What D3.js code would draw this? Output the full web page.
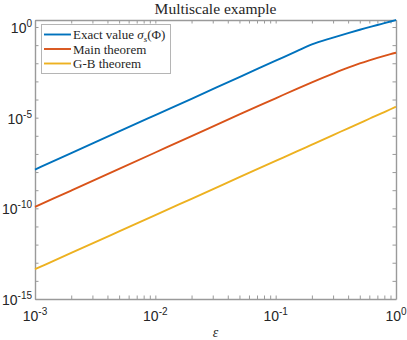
<!DOCTYPE html>
<html lang="en">
<head>
  <meta charset="UTF-8">
  <title>Multiscale example</title>
<script src="https://d3js.org/d3.v7.min.js"></script>
<style>
  body { margin: 0; background: #fff; }
  svg text { fill: #262626; }
</style>
</head>
<body>
<div id="chart"></div>

  <script>

// values
const epsilon = [0.001, 0.002, 0.005, 0.01, 0.02, 0.05, 0.1, 0.15, 0.2, 0.3, 0.4, 0.5, 0.6, 0.7, 0.8, 0.9, 1];
const exactValue = [1.38e-8, 1.10e-7, 1.73e-6, 1.38e-5, 1.10e-4, 1.73e-3, 1.38e-2, 4.66e-2, 0.110, 0.259, 0.460, 0.703, 0.975, 1.29, 1.62, 2.0, 2.43];
const mainTheorem = [1.2e-10, 9.6e-10, 1.5e-8, 1.2e-7, 9.6e-7, 1.5e-5, 1.17e-4, 3.9e-4, 8.9e-4, 2.69e-3, 5.69e-3, 9.73e-3, 1.45e-2, 1.99e-2, 2.58e-2, 3.2e-2, 3.8e-2];
const gbTheorem = [4.4e-14, 3.48e-13, 5.37e-12, 4.26e-11, 3.37e-10, 5.2e-9, 4.12e-8, 1.38e-7, 3.27e-7, 1.10e-6, 2.59e-6, 5.05e-6, 8.7e-6, 1.38e-5, 2.05e-5, 2.91e-5, 4.0e-5];

const seriesNames = ['Exact value', 'Main theorem', 'G-B theorem'];
const seriesColors = ['#0072BD', '#D95319', '#EDB120'];

const xTicks = [1e-3, 1e-2, 1e-1, 1];
const xTickExp = ['-3', '-2', '-1', '0'];
const yTicks = [1e-15, 1e-10, 1e-5, 1];
const yTickExp = ['-15', '-10', '-5', '0'];

const width = 407;
const height = 340;
const margin = { top: 20, right: 11, bottom: 41, left: 35 };

const x = d3.scaleLog()
  .domain([1e-3, 1])
  .range([margin.left, width - margin.right]);

const y = d3.scaleLog()
  .domain([1e-15, d3.max(exactValue)])
  .range([height - margin.bottom, margin.top]);

const svg = d3.select('#chart')
  .append('svg')
  .attr('width', width)
  .attr('height', height);

const axisColor = '#9a9a9a';
const tickLen = 3.5;

// minor ticks: 2..9 per decade on x, every decade on y
const xMinor = x.ticks();
const yMinor = d3.range(-15, 1).map(e => Math.pow(10, e));

function styleAxis(g) {
  g.selectAll('path').attr('stroke', axisColor).attr('stroke-width', 1.4);
  g.selectAll('line').attr('stroke', axisColor).attr('stroke-width', 1);
  g.selectAll('text').remove();
}

svg.append('g')
  .attr('transform', `translate(0,${height - margin.bottom})`)
  .call(d3.axisBottom(x).tickValues(xMinor).tickSize(-tickLen).tickSizeOuter(0))
  .call(styleAxis);

svg.append('g')
  .attr('transform', `translate(0,${margin.top})`)
  .call(d3.axisTop(x).tickValues(xMinor).tickSize(-tickLen).tickSizeOuter(0))
  .call(styleAxis);

svg.append('g')
  .attr('transform', `translate(${margin.left},0)`)
  .call(d3.axisLeft(y).tickValues(yMinor).tickSize(-tickLen).tickSizeOuter(0))
  .call(styleAxis);

svg.append('g')
  .attr('transform', `translate(${width - margin.right},0)`)
  .call(d3.axisRight(y).tickValues(yMinor).tickSize(-tickLen).tickSizeOuter(0))
  .call(styleAxis);

// tick labels with superscripts
const tickFont = "'Liberation Sans', Arial, sans-serif";

const xl = svg.append('g').selectAll('text')
  .data(xTicks)
  .enter()
  .append('text')
  .attr('x', d => x(d))
  .attr('y', height - margin.bottom + 22)
  .attr('text-anchor', 'middle')
  .style('font-family', tickFont)
  .style('font-size', '14px');
xl.append('tspan').text('10');
xl.append('tspan').attr('dy', -6).style('font-size', '10px').text((d, i) => xTickExp[i]);

const yl = svg.append('g').selectAll('text')
  .data(yTicks)
  .enter()
  .append('text')
  .attr('x', margin.left - 3)
  .attr('y', d => y(d) + 6)
  .attr('text-anchor', 'end')
  .style('font-family', tickFont)
  .style('font-size', '14px');
yl.append('tspan').text('10');
yl.append('tspan').attr('dy', -6).style('font-size', '10px').text((d, i) => yTickExp[i]);

// lines
const series = [exactValue, mainTheorem, gbTheorem];

const line = d3.line()
  .x(d => x(d[0]))
  .y(d => y(d[1]))
  .curve(d3.curveMonotoneX);

svg.append('g')
  .selectAll('path')
  .data(series)
  .enter()
  .append('path')
  .attr('d', s => line(epsilon.map((e, i) => [e, s[i]])))
  .attr('fill', 'none')
  .attr('stroke', (s, i) => seriesColors[i])
  .attr('stroke-width', 1.9);

// title and axis label
const serif = "'Liberation Serif', 'DejaVu Serif', serif";

svg.append('text')
  .attr('x', (margin.left + width - margin.right) / 2)
  .attr('y', 14)
  .attr('text-anchor', 'middle')
  .style('font-family', serif)
  .style('font-size', '15.5px')
  .text('Multiscale example');

svg.append('text')
  .attr('x', (margin.left + width - margin.right) / 2)
  .attr('y', 337)
  .attr('text-anchor', 'middle')
  .style('font-family', serif)
  .style('font-style', 'italic')
  .style('font-size', '14px')
  .text('\u03b5');

// legend
const legend = svg.append('g');

legend.append('rect')
  .attr('x', 41.5)
  .attr('y', 24.5)
  .attr('width', 129)
  .attr('height', 49)
  .attr('fill', '#fff')
  .attr('stroke', '#b5b5b5')
  .attr('stroke-width', 1);

const rows = legend.selectAll('g.row')
  .data(seriesNames)
  .enter()
  .append('g')
  .attr('class', 'row')
  .attr('transform', (d, i) => `translate(0,${34.5 + i * 14.5})`);

rows.append('line')
  .attr('x1', 44)
  .attr('x2', 71)
  .attr('stroke', (d, i) => seriesColors[i])
  .attr('stroke-width', 1.9);

const lt = rows.append('text')
  .attr('x', 73)
  .attr('y', 4.5)
  .style('font-family', serif)
  .style('font-size', '13px');

lt.append('tspan').text(d => d);
lt.filter((d, i) => i === 0).each(function () {
  const t = d3.select(this);
  t.append('tspan').text(' ');
  t.append('tspan').style('font-style', 'italic').text('\u03c3');
  t.append('tspan').style('font-style', 'italic').style('font-size', '9px').attr('dy', 2.5).text('s');
  t.append('tspan').attr('dy', -2.5).text('(\u03a6)');
});

  </script>
</body>
</html>
